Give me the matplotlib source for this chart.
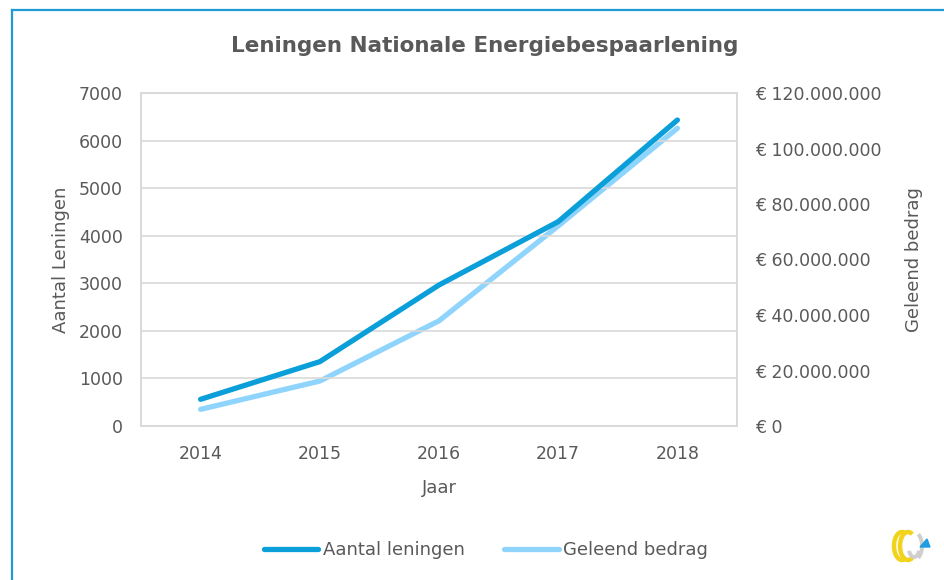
import matplotlib
matplotlib.use("Agg")
import matplotlib.pyplot as plt
from matplotlib.lines import Line2D
from matplotlib.patches import Arc, Polygon

plt.rcParams['font.family'] = ['DejaVu Sans']

years = ["2014", "2015", "2016", "2017", "2018"]
aantal_leningen = [561, 1352, 2964, 4295, 6432]
geleend_bedrag = [6.0e6, 16.2e6, 37.9e6, 72.1e6, 107.3e6]
left_ticks = [0, 1000, 2000, 3000, 4000, 5000, 6000, 7000]
right_ticks = [0, 20e6, 40e6, 60e6, 80e6, 100e6, 120e6]
right_labels = ["€ 0", "€ 20.000.000", "€ 40.000.000", "€ 60.000.000",
                "€ 80.000.000", "€ 100.000.000", "€ 120.000.000"]

W, H = 944, 580
fig = plt.figure(figsize=(W / 100, H / 100), dpi=100)
fig.patch.set_facecolor("white")

txt = "#595959"
dark = "#0a9fd9"
light = "#8fd4fc"
grid = "#d9d9d9"

ax = fig.add_axes([141 / W, 1 - 426 / H, (737 - 141) / W, (426 - 93) / H])
ax2 = ax.twinx()

x = list(range(len(years)))
ax.plot(x, aantal_leningen, color=dark, lw=3.8, solid_capstyle="round",
        solid_joinstyle="round", zorder=4)
ax2.plot(x, geleend_bedrag, color=light, lw=3.8, solid_capstyle="round",
         solid_joinstyle="round", zorder=3)
ax.set_zorder(ax2.get_zorder() + 1)
ax.patch.set_visible(False)

ax.set_xlim(-0.5, 4.5)
ax.set_ylim(0, 7000)
ax2.set_ylim(0, 120e6)
ax.set_xticks(x)
ax.set_xticklabels(years)
ax.set_yticks(left_ticks)
ax.set_yticklabels([str(v) for v in left_ticks])
ax2.set_yticks(right_ticks)
ax2.set_yticklabels(right_labels, ha="left")

for a in (ax, ax2):
    a.tick_params(length=0, colors=txt, labelsize=12.5)
    for s in a.spines.values():
        s.set_color(grid)
        s.set_linewidth(1.2)
ax.tick_params(axis="y", pad=13)
ax.tick_params(axis="x", pad=14)
ax2.tick_params(axis="y", pad=13)
ax.yaxis.grid(True, color=grid, lw=1.2)
ax.set_axisbelow(True)

ax.set_xlabel("Jaar", color=txt, fontsize=13, labelpad=11)
ax.set_ylabel("Aantal Leningen", color=txt, fontsize=13, labelpad=6)
ax2.set_ylabel("Geleend bedrag", color=txt, fontsize=13, labelpad=17,
               rotation=90)

fig.text(485 / W, 1 - 46 / H, "Leningen Nationale Energiebespaarlening",
         ha="center", va="center", fontsize=15.5, fontweight="bold", color=txt)

handles = [Line2D([], [], color=dark, lw=3.8, solid_capstyle="round"),
           Line2D([], [], color=light, lw=3.8, solid_capstyle="round")]
fig.legend(handles, ["Aantal leningen", "Geleend bedrag"], loc="center",
           bbox_to_anchor=(486 / W, 1 - 550 / H), ncol=2, frameon=False,
           fontsize=13, labelcolor=txt, handlelength=3.0, handletextpad=0.25,
           columnspacing=2.2)

# outer frame of the screenshot
fig.add_artist(Line2D([11.5 / W, 1], [1 - 9.5 / H, 1 - 9.5 / H], color="#1f9ad3",
                      lw=1.6, transform=fig.transFigure))
fig.add_artist(Line2D([11.5 / W, 11.5 / W], [0, 1 - 9.5 / H], color="#1f9ad3",
                      lw=1.6, transform=fig.transFigure))

# small logo, bottom right
lax = fig.add_axes([886 / W, 1 - 566 / H, 50 / W, 40 / H])
lax.set_xlim(0, 50)
lax.set_ylim(0, 40)
lax.set_aspect("equal")
lax.axis("off")
lax.add_patch(Arc((16, 20), 16, 28, theta1=70, theta2=290, color="#f2d31b", lw=3.2))
lax.add_patch(Arc((22, 20), 16, 28, theta1=70, theta2=290, color="#f2d31b", lw=3.2))
lax.add_patch(Arc((28, 20), 16, 28, theta1=-70, theta2=70, color="#cfcfcf", lw=2.8))
lax.add_patch(Arc((28, 17), 10, 16, theta1=200, theta2=340, color="#cfcfcf", lw=2.8))
lax.add_patch(Polygon([[34, 19], [44, 19], [41, 27]], closed=True, color="#1e9ee0"))

fig.savefig("out.png", dpi=100, facecolor="white")
